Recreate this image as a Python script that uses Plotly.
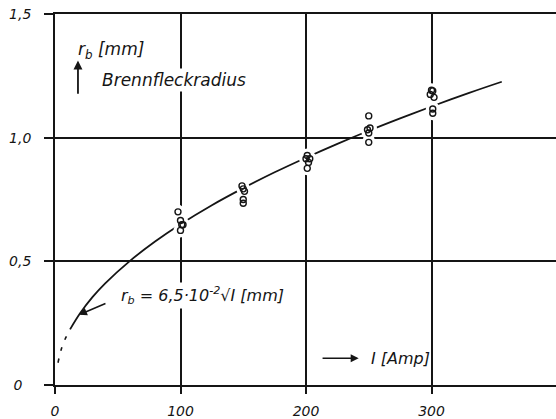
import plotly.graph_objects as go

# Measured points (current I in A, focal spot radius r_b in mm)
meas_I = [98, 100, 101, 102, 100,
          149, 150, 151, 150, 150,
          201, 200, 203, 202, 201,
          250, 249, 251, 250, 250,
          300, 301, 299, 302, 301, 301]
meas_r = [0.700, 0.665, 0.648, 0.648, 0.625,
          0.805, 0.793, 0.783, 0.750, 0.735,
          0.928, 0.915, 0.915, 0.900, 0.876,
          1.088, 1.032, 1.039, 1.019, 0.981,
          1.192, 1.189, 1.175, 1.163, 1.116, 1.099]

# Fitted curve (solid part)
curve_I = [12, 20, 30, 40, 60, 80, 100, 125, 150, 175, 200, 225, 250, 275, 300, 330, 356]
curve_r = [0.225, 0.29, 0.356, 0.411, 0.503, 0.581, 0.65, 0.727, 0.796, 0.86,
           0.919, 0.975, 1.028, 1.078, 1.126, 1.181, 1.226]
# dashed extrapolation towards the origin
dash_I = [2.4, 5, 8, 12]
dash_r = [0.09, 0.145, 0.185, 0.225]

x_ticks = [0, 100, 200, 300]
x_labels = ["0", "100", "200", "300"]
y_ticks = [0, 0.5, 1.0, 1.5]
y_labels = ["0\u2007", "0,5", "1,0", "1,5"]

INK = "#151515"
FONT = "DejaVu Sans"

fig = go.Figure()
fig.add_trace(go.Scatter(x=dash_I, y=dash_r, mode="lines",
                         line=dict(color=INK, width=1.6, dash="4px,8px", shape="spline"),
                         hoverinfo="skip"))
fig.add_trace(go.Scatter(x=curve_I, y=curve_r, mode="lines",
                         line=dict(color=INK, width=1.8, shape="spline"),
                         hoverinfo="skip"))
# white halo that breaks lines around the measurement circles
fig.add_trace(go.Scatter(x=meas_I, y=meas_r, mode="markers",
                         marker=dict(size=14, color="white", line=dict(width=0)),
                         hoverinfo="skip"))
fig.add_trace(go.Scatter(x=meas_I, y=meas_r, mode="markers",
                         marker=dict(symbol="circle-open", size=6, color=INK,
                                     line=dict(width=1.4, color=INK))))

annots = [
    dict(x=16.5, y=1.352, text="r<sub>b</sub> [mm]", xanchor="left", showarrow=False,
         font=dict(size=17)),
    dict(x=35.5, y=1.232, text="Brennfleckradius", xanchor="left", showarrow=False,
         font=dict(size=17), bgcolor="white"),
    dict(x=18.3, y=1.312, ax=18.3, ay=1.172, axref="x", ayref="y", text="",
         showarrow=True, arrowhead=2, arrowsize=1, arrowwidth=1.8, arrowcolor=INK),
    dict(x=51, y=0.362, text="r<sub>b</sub> = 6,5·10<sup>-2</sup>√I [mm]", xanchor="left",
         showarrow=False, font=dict(size=16), bgcolor="white"),
    dict(x=19.1, y=0.284, ax=41.4, ay=0.332, axref="x", ayref="y", text="",
         showarrow=True, arrowhead=2, arrowsize=1, arrowwidth=1.6, arrowcolor=INK),
    dict(x=242, y=0.108, ax=212, ay=0.108, axref="x", ayref="y", text="",
         showarrow=True, arrowhead=2, arrowsize=1, arrowwidth=1.6, arrowcolor=INK),
    dict(x=250.5, y=0.108, text="I [Amp]", xanchor="left", showarrow=False,
         font=dict(size=16)),
]

fig.update_layout(
    width=556, height=419,
    margin=dict(l=55, r=0, t=14, b=31),
    paper_bgcolor="white", plot_bgcolor="white",
    showlegend=False,
    font=dict(family=FONT, size=13, color=INK, style="italic"),
    annotations=annots,
    xaxis=dict(range=[0, 399.2], tickvals=x_ticks, ticktext=x_labels,
               showgrid=True, gridcolor=INK, gridwidth=1.8, zeroline=False,
               showline=True, linecolor=INK, linewidth=1.8, mirror=True,
               ticks="outside", ticklen=7, tickwidth=1.8, tickcolor=INK,
               ticklabelstandoff=5, tickfont=dict(size=14)),
    yaxis=dict(range=[0, 1.5], tickvals=y_ticks, ticktext=y_labels,
               showgrid=True, gridcolor=INK, gridwidth=1.8, zeroline=False,
               showline=True, linecolor=INK, linewidth=1.8,
               ticks="outside", ticklen=9, tickwidth=1.8, tickcolor=INK,
               ticklabelstandoff=10, tickfont=dict(size=14)),
)

fig.write_html("out.html")
